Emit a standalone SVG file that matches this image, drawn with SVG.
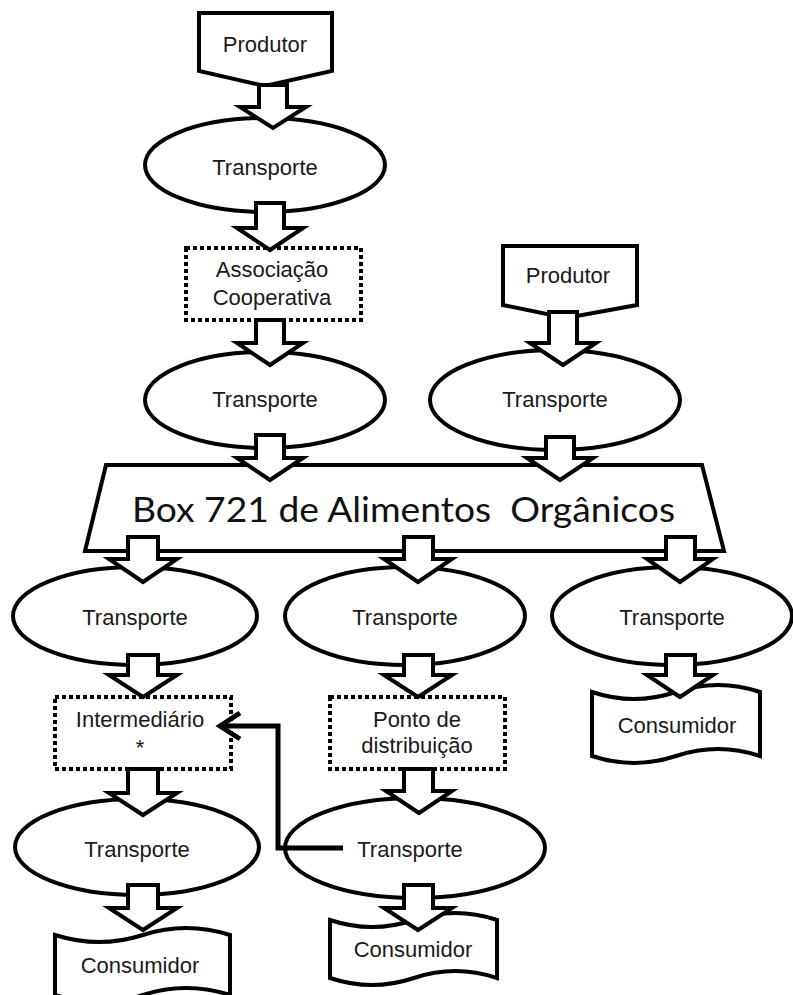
<svg xmlns="http://www.w3.org/2000/svg" width="793" height="995" viewBox="0 0 793 995">
<style>
.s{fill:#fff;stroke:#000;stroke-width:4;stroke-linejoin:miter}
.d{fill:#fff;stroke:#000;stroke-width:4;stroke-dasharray:4 3}
.t{font-family:"Liberation Sans",Arial,sans-serif;font-size:22px;fill:#1a1a1a;text-anchor:middle}
.b{font-family:Lato,"Open Sans",sans-serif;font-size:34px;fill:#111;white-space:pre}
.a{fill:#fff;stroke:#000;stroke-width:4;stroke-linejoin:miter}
.l{fill:none;stroke:#000;stroke-width:5;stroke-linejoin:miter}
</style>
<rect width="793" height="995" fill="#fff"/>
<g id="produtor1"><path class="s" d="M199,13 L332,13 L332,71 L265,86 L199,71 Z"/><text class="t" x="265" y="52">Produtor</text></g>
<g id="transporte1"><ellipse class="s" cx="265" cy="165" rx="120" ry="47"/><text class="t" x="265" y="175">Transporte</text></g>
<g id="associacao"><rect class="d" x="186" y="248" width="175" height="72"/><text class="t" x="272" y="277">Associação</text><text class="t" x="272" y="305">Cooperativa</text></g>
<g id="transporte2"><ellipse class="s" cx="265" cy="400" rx="120" ry="48"/><text class="t" x="265" y="407">Transporte</text></g>
<g id="produtor2"><path class="s" d="M503,246 L637,246 L637,305 L566,318 L503,305 Z"/><text class="t" x="568" y="283">Produtor</text></g>
<g id="transporte3"><ellipse class="s" cx="555" cy="400" rx="125" ry="50"/><text class="t" x="555" y="407">Transporte</text></g>
<g id="box721"><path class="s" d="M106,465 L702,465 L724,551 L85,551 Z"/><text class="b" x="132" y="522" textLength="543" lengthAdjust="spacingAndGlyphs">Box 721 de Alimentos  Orgânicos</text></g>
<g id="transporte4"><ellipse class="s" cx="135" cy="616" rx="122" ry="49"/><text class="t" x="135" y="625">Transporte</text></g>
<g id="transporte5"><ellipse class="s" cx="405" cy="616" rx="120" ry="49"/><text class="t" x="405" y="625">Transporte</text></g>
<g id="transporte6"><ellipse class="s" cx="672" cy="616" rx="120" ry="49"/><text class="t" x="672" y="625">Transporte</text></g>
<g id="intermediario"><rect class="d" x="55" y="697" width="176" height="72"/><text class="t" x="140" y="727">Intermediário</text><text class="t" x="140" y="755">*</text></g>
<g id="ponto"><rect class="d" x="330" y="697" width="175" height="72"/><text class="t" x="417" y="727">Ponto de</text><text class="t" x="417" y="753">distribuição</text></g>
<g id="consumidor3"><path class="s" d="M592,692 Q634,706 676,692 Q718,678 760,692 L760,756 Q718,742 676,756 Q634,770 592,756 Z"/><text class="t" x="677" y="733">Consumidor</text></g>
<g id="transporte7"><ellipse class="s" cx="137" cy="847" rx="122" ry="48"/><text class="t" x="137" y="857">Transporte</text></g>
<g id="transporte8"><ellipse class="s" cx="415" cy="848" rx="130" ry="50"/><text class="t" x="410" y="857">Transporte</text></g>
<g id="consumidor1"><path class="s" d="M55,935 Q99,949 143,935 Q186,921 230,935 L230,995 Q186,981 143,995 Q99,1009 55,995 Z"/><text class="t" x="140" y="973">Consumidor</text></g>
<g id="consumidor2"><path class="s" d="M330,920 Q372,934 414,920 Q455,906 497,920 L497,978 Q455,964 414,978 Q372,992 330,978 Z"/><text class="t" x="413" y="957">Consumidor</text></g>
<g id="connectors">
<path class="a" d="M259,85 L287,85 L287,107 L306,107 L273,128 L240,107 L259,107 Z"/>
<path class="a" d="M256,203 L284,203 L284,228 L303,228 L270,250 L237,228 L256,228 Z"/>
<path class="a" d="M256,320 L284,320 L284,343 L303,343 L270,365 L237,343 L256,343 Z"/>
<path class="a" d="M256,435 L284,435 L284,458 L303,458 L270,480 L237,458 L256,458 Z"/>
<path class="a" d="M549,312 L577,312 L577,343 L596,343 L563,365 L530,343 L549,343 Z"/>
<path class="a" d="M546,437 L574,437 L574,458 L593,458 L560,480 L527,458 L546,458 Z"/>
<path class="a" d="M128,537 L158,537 L158,559 L177,559 L143,582 L109,559 L128,559 Z"/>
<path class="a" d="M404,537 L433,537 L433,559 L452,559 L418,582 L384,559 L404,559 Z"/>
<path class="a" d="M666,537 L695,537 L695,559 L713,559 L680,582 L647,559 L666,559 Z"/>
<path class="a" d="M128,655 L158,655 L158,675 L177,675 L143,697 L109,675 L128,675 Z"/>
<path class="a" d="M404,655 L433,655 L433,675 L452,675 L418,697 L384,675 L404,675 Z"/>
<path class="a" d="M666,655 L695,655 L695,675 L713,675 L680,697 L647,675 L666,675 Z"/>
<path class="a" d="M128,769 L158,769 L158,793 L177,793 L143,815 L109,793 L128,793 Z"/>
<path class="a" d="M404,769 L433,769 L433,791 L452,791 L419,813 L386,791 L404,791 Z"/>
<path class="a" d="M128,885 L158,885 L158,908 L177,908 L143,930 L109,908 L128,908 Z"/>
<path class="a" d="M404,885 L433,885 L433,908 L452,908 L418,930 L384,908 L404,908 Z"/>
<path class="l" d="M343,848 L278,848 L278,726 L220,726"/>
<path class="l" d="M240,713 L220,726 L240,739"/>
</g>
</svg>
